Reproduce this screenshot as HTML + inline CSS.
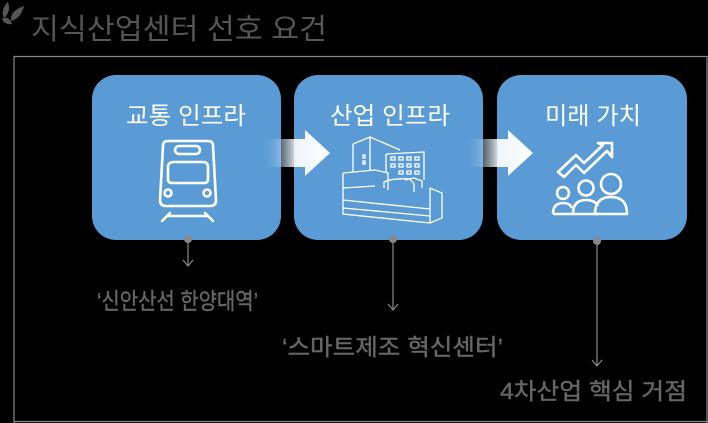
<!DOCTYPE html>
<html><head><meta charset="utf-8"><style>
html,body{margin:0;padding:0;background:#000;}
svg{display:block;}
text{font-family:"Liberation Sans","Noto Sans CJK KR",sans-serif;}
</style></head><body>
<svg width="708" height="423" viewBox="0 0 708 423" xmlns="http://www.w3.org/2000/svg">
<defs>
<linearGradient id="ag" x1="0" x2="1" y1="0" y2="0">
<stop offset="0" stop-color="#5b9bd5" stop-opacity="0"/>
<stop offset="0.5" stop-color="#ffffff" stop-opacity="0.9"/>
<stop offset="1" stop-color="#ffffff"/>
</linearGradient>
</defs>
<rect width="708" height="423" fill="#000"/>
<g fill="#555">
<path d="M4 18 C0 10 6 4 8 2 C10 8 9 14 4 18Z"/>
<path d="M11 21 C10 12 18 8 24 6 C22 14 18 19 11 21Z"/>
<path d="M2 19 C5 16 10 18 12 24 C7 25 3 22 2 19Z"/>
</g>
<text x="31" y="39" font-size="29" fill="#555" textLength="296" lengthAdjust="spacingAndGlyphs">지식산업센터 선호 요건</text>
<polyline points="14,423 14,56.5 707,56.5 707,423" fill="none" stroke="#888" stroke-width="1.2"/>
<line x1="14" y1="421.5" x2="708" y2="421.5" stroke="#888" stroke-width="1.2"/>
<rect x="92" y="75" width="189" height="165" rx="24" fill="#5b9bd5"/>
<rect x="294" y="75" width="189" height="165" rx="24" fill="#5b9bd5"/>
<rect x="497" y="75" width="190" height="165" rx="24" fill="#5b9bd5"/>
<path d="M262 139 H305 V130 L330 153 L305 176 V167 H262Z" fill="url(#ag)"/>
<path d="M465 139 H508 V130 L533 153 L508 176 V167 H465Z" fill="url(#ag)"/>
<g fill="#fff" font-size="24">
<text x="126" y="124" textLength="120" lengthAdjust="spacingAndGlyphs">교통 인프라</text>
<text x="330" y="124" textLength="120" lengthAdjust="spacingAndGlyphs">산업 인프라</text>
<text x="545" y="124" textLength="96" lengthAdjust="spacingAndGlyphs">미래 가치</text>
</g>
<g fill="none" stroke="#fff" stroke-width="2.6" stroke-linecap="round" stroke-linejoin="round">
<path d="M163 146 Q163 141 168 141 H208 Q213 141 213 146 L216 200 Q216 206 210 206 H166 Q160 206 160 200Z"/>
<rect x="175" y="146" width="25" height="8" rx="4"/>
<path d="M168 167 Q168 162 174 162 H203 Q208 162 208 167 V179 Q208 183 204 183 H172 Q168 183 168 179Z"/>
<circle cx="168" cy="193" r="3.5"/><circle cx="207" cy="193" r="3.5"/>
<path d="M170 213 L162 221 M205 213 L213 221 M167 216 H208"/>
</g>
<g fill="none" stroke="#fff" stroke-width="1.3">
<path d="M353 144 L370 137 V170 M370 137 L400 150 M353 144 V172"/>
<path d="M386 154 L424 152 V180 M386 154 V172"/>
<g><rect x="391" y="157" width="4" height="3"/><rect x="399" y="157" width="4" height="3"/><rect x="407" y="157" width="4" height="3"/><rect x="415" y="157" width="4" height="3"/>
<rect x="391" y="164" width="4" height="3"/><rect x="399" y="164" width="4" height="3"/><rect x="407" y="164" width="4" height="3"/><rect x="415" y="164" width="4" height="3"/>
<rect x="399" y="171" width="4" height="3"/><rect x="407" y="171" width="4" height="3"/><rect x="415" y="171" width="4" height="3"/>
<rect x="363" y="155" width="2" height="3"/><rect x="363" y="161" width="2" height="3"/></g>
<path d="M343 173 L375 170 L388 173 V190 M343 173 V214 L430 223 L442 218 V193 L430 188 M343 188 L375 186 M343 200 L430 209 M343 208 L430 216 M430 188 V223"/>
<path d="M384 188 L384 182 Q392 178 410 179 L414 184 V192 M405 180 L414 178 L422 181 V188"/>
</g>
<g fill="none" stroke="#fff" stroke-width="2.6" stroke-linejoin="round">
<path d="M558 172 L576 155 L584 163 L603 145 L598 143 L612 143 L612 157 L607 151 L584 173 L576 165 L564 177 Z"/>
<circle cx="563" cy="193" r="6"/><circle cx="586" cy="188" r="7.5"/><circle cx="611" cy="184" r="10"/>
<path d="M553 214 Q553 203 563 203 Q570 203 572 208"/>
<path d="M573 214 Q573 200 586 200 Q595 200 598 206"/>
<path d="M595 214 Q595 197 611 197 Q627 197 627 214 Z"/>
<path d="M553 214 H598"/>
</g>
<g stroke="#888" stroke-width="1.2" fill="none">
<line x1="188" y1="239" x2="188" y2="266"/><polyline points="183,260 188,266 193,260"/>
<line x1="393" y1="239" x2="393" y2="310"/><polyline points="388,304 393,310 398,304"/>
<line x1="597" y1="241" x2="597" y2="366"/><polyline points="592,360 597,366 602,360"/>
</g>
<g fill="#888"><circle cx="188" cy="239" r="4"/><circle cx="393" cy="239" r="4"/><circle cx="597" cy="241" r="4"/></g>
<g fill="#666" font-size="23" stroke="#666" stroke-width="0.4">
<text x="97" y="309" textLength="161" lengthAdjust="spacingAndGlyphs">‘신안산선 한양대역’</text>
<text x="282" y="355" textLength="221" lengthAdjust="spacingAndGlyphs">‘스마트제조 혁신센터’</text>
<text x="500" y="399" textLength="187" lengthAdjust="spacingAndGlyphs">4차산업 핵심 거점</text>
</g>
</svg>
</body></html>
